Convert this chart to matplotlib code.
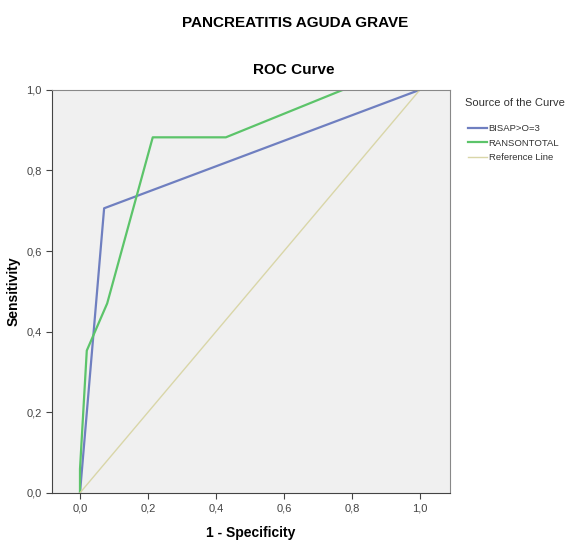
import matplotlib
matplotlib.use('Agg')
import matplotlib.pyplot as plt
from matplotlib.ticker import FuncFormatter

plt.rcParams['font.family'] = ['Liberation Sans Narrow', 'Liberation Sans', 'DejaVu Sans']

# ROC curve data
bisap_fpr = [0.0, 0.0, 0.071, 1.0]
bisap_tpr = [0.0, 0.0, 0.706, 1.0]
ranson_fpr = [0.0, 0.0, 0.02, 0.08, 0.214, 0.429, 0.774, 1.0]
ranson_tpr = [0.0, 0.059, 0.353, 0.47, 0.882, 0.882, 1.0, 1.0]
ref_x = [0.0, 1.0]
ref_y = [0.0, 1.0]
series_labels = ['BISAP>O=3', 'RANSONTOTAL', 'Reference Line']

fig = plt.figure(figsize=(5.79, 5.44), dpi=100)
ax = fig.add_axes([0.09, 0.094, 0.687, 0.741])
ax.set_facecolor('#f0f0f0')

ax.plot(bisap_fpr, bisap_tpr, color='#6f7fc0', linewidth=1.6, label=series_labels[0])
ax.plot(ranson_fpr, ranson_tpr, color='#5cc46a', linewidth=1.6, label=series_labels[1])
ax.plot(ref_x, ref_y, color='#d9d6a8', linewidth=1.0, label=series_labels[2])

ax.set_xlim(-0.082, 1.088)
ax.set_ylim(0, 1)
ax.set_xticks([0, 0.2, 0.4, 0.6, 0.8, 1.0])
ax.set_yticks([0, 0.2, 0.4, 0.6, 0.8, 1.0])
fmt = FuncFormatter(lambda v, p: ('%.1f' % v).replace('.', ','))
ax.xaxis.set_major_formatter(fmt)
ax.yaxis.set_major_formatter(fmt)
ax.tick_params(labelsize=8, colors='#444444', length=4)
for s in ['left', 'bottom']:
    ax.spines[s].set_color('#444444')
for s in ['top', 'right']:
    ax.spines[s].set_color('#888888')

ax.set_xlabel('1 - Specificity', fontsize=10, fontweight='bold', labelpad=9)
ax.set_ylabel('Sensitivity', fontsize=10, fontweight='bold', labelpad=4)
fig.text(0.507, 0.871, 'ROC Curve', ha='center', va='center',
         fontsize=11, fontweight='bold')
fig.text(0.51, 0.958, 'PANCREATITIS AGUDA GRAVE', ha='center', va='center',
         fontsize=11, fontweight='bold')

# legend outside the plot, title drawn as its own text
fig.text(0.803, 0.811, 'Source of the Curve', ha='left', va='center',
         fontsize=8, color='#333333')
leg = ax.legend(loc='upper left', bbox_to_anchor=(0.808, 0.772),
                bbox_transform=fig.transFigure, frameon=False,
                fontsize=6.8, handlelength=2.0, handletextpad=0.2,
                labelspacing=0.6, borderpad=0, borderaxespad=0)
for t in leg.get_texts():
    t.set_color('#333333')

fig.savefig('out.png', dpi=100)
